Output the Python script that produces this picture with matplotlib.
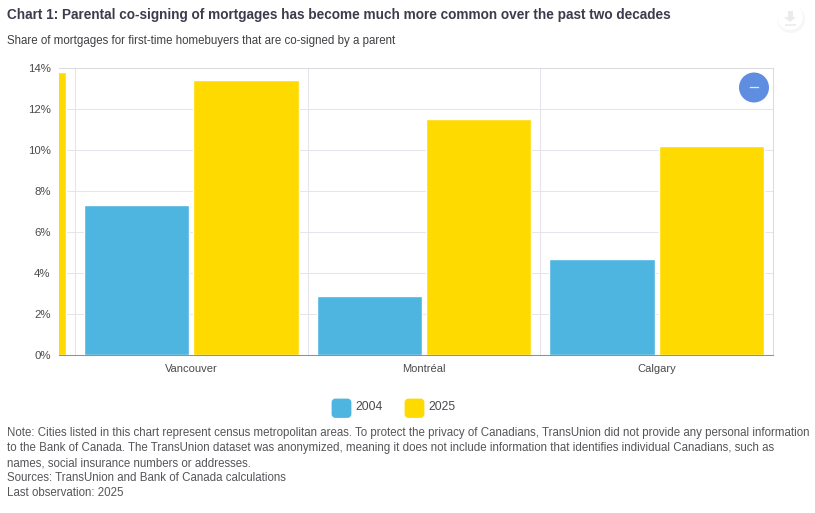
import matplotlib
matplotlib.use("Agg")
import matplotlib.pyplot as plt
from matplotlib.patches import Circle, FancyBboxPatch, Rectangle
from matplotlib.ticker import FuncFormatter

plt.rcParams["font.family"] = ["Liberation Sans", "DejaVu Sans"]

W, H = 815, 513

cities = ["Vancouver", "Montréal", "Calgary"]
share_2004 = [7.3, 2.9, 4.7]
share_2025 = [13.4, 11.5, 10.2]
# The chart is scrolled: only the 2025 bar of the preceding city shows at the left edge.
offscreen_2025 = [13.8]
years = ["2004", "2025"]
y_ticks = [0, 2, 4, 6, 8, 10, 12, 14]

BLUE = "#4eb5e0"
YELLOW = "#ffda00"
GRID = "#e6e4ec"
TEXT = "#4a4a4f"

fig = plt.figure(figsize=(W / 100, H / 100), dpi=100, facecolor="white")


def box(x0, y0, x1, y1):
    """Figure-fraction rectangle from pixel corners, y measured from the top."""
    return [x0 / W, 1 - y1 / H, (x1 - x0) / W, (y1 - y0) / H]


ax = fig.add_axes(box(59, 68, 773, 355))
ax.set_xlim(-0.569, 2.5)
ax.set_ylim(0, 14)
ax.set_axisbelow(True)

positions = list(range(len(cities)))
bar_w = 0.452
off = 0.235
bar_style = dict(width=bar_w, edgecolor="white", linewidth=1.0, zorder=3)
ax.bar([p - off for p in positions], share_2004, color=BLUE, label=years[0], **bar_style)
ax.bar([p + off for p in positions], share_2025, color=YELLOW, label=years[1], **bar_style)
ax.bar([-1 + off], offscreen_2025, color=YELLOW, **bar_style)

# Horizontal grid plus the vertical separators between cities
ax.set_yticks(y_ticks)
ax.yaxis.set_major_formatter(FuncFormatter(lambda v, _: f"{v:.0f}%"))
ax.grid(axis="y", color=GRID, linewidth=0.75)
for sep in [-0.5, 0.5, 1.5]:
    ax.axvline(sep, color=GRID, linewidth=0.75, zorder=1)

ax.set_xticks(positions)
ax.set_xticklabels(cities)
ax.tick_params(axis="x", length=0, pad=6.5, labelsize=8.05, labelcolor=TEXT)
ax.tick_params(axis="y", length=0, pad=6, labelsize=8.2, labelcolor=TEXT)

for name, spine in ax.spines.items():
    spine.set_color("#dcdce0")
    spine.set_linewidth(0.75)
ax.spines["left"].set_visible(False)
ax.spines["bottom"].set_color("#8f8f94")
ax.spines["bottom"].set_zorder(5)

# Legend keys and labels
overlay = fig.add_axes([0, 0, 1, 1], facecolor="none")
overlay.set_xlim(0, W)
overlay.set_ylim(H, 0)
overlay.axis("off")

for x0, colour, label in zip([332, 405], [BLUE, YELLOW], years):
    overlay.add_patch(FancyBboxPatch((x0 + 1, 400), 17, 16.5,
                                     boxstyle="round,pad=0,rounding_size=2.5",
                                     mutation_aspect=1, facecolor=colour,
                                     edgecolor=colour, linewidth=2.0))
    overlay.text(x0 + 23.5, 407.5, label, fontsize=8.8, color=TEXT, va="center", ha="left")

# Zoom control inside the plot area
overlay.add_patch(Circle((754, 87.5), 15, facecolor="#5f8ee0", edgecolor="none", zorder=6))
overlay.plot([750, 758], [87, 87], color="#dfe8f8", linewidth=0.9, zorder=7)

# Faint download button at the top right
overlay.add_patch(Circle((791, 19), 14, facecolor="#f5f5f5", edgecolor="none", alpha=0.9))
overlay.add_patch(Circle((790, 17), 13, facecolor="white", edgecolor="none"))
overlay.add_patch(Rectangle((787.5, 11), 5, 6, facecolor="#ebebeb", edgecolor="none"))
overlay.fill([784, 796, 790], [17, 17, 22], color="#ebebeb", linewidth=0)
overlay.add_patch(Rectangle((784.5, 24), 11, 2, facecolor="#eeeeee", edgecolor="none"))

# Heading, subtitle and notes
overlay.text(7, 14.5, "Chart 1: Parental co-signing of mortgages has become much more common over the past two decades",
             fontsize=9.79, fontweight="bold", color="#3c3c4c", va="center", ha="left")
overlay.text(7, 41, "Share of mortgages for first-time homebuyers that are co-signed by a parent",
             fontsize=8.32, color="#3f3f44", va="center", ha="left")

notes = [
    "Note: Cities listed in this chart represent census metropolitan areas. To protect the privacy of Canadians, TransUnion did not provide any personal information",
    "to the Bank of Canada. The TransUnion dataset was anonymized, meaning it does not include information that identifies individual Canadians, such as",
    "names, social insurance numbers or addresses.",
    "Sources: TransUnion and Bank of Canada calculations",
    "Last observation: 2025",
]
for i, line in enumerate(notes):
    overlay.text(7, 433 + i * 15.1, line, fontsize=8.3, color="#55555a", va="center", ha="left")

fig.savefig("out.png", dpi=100, facecolor="white")
